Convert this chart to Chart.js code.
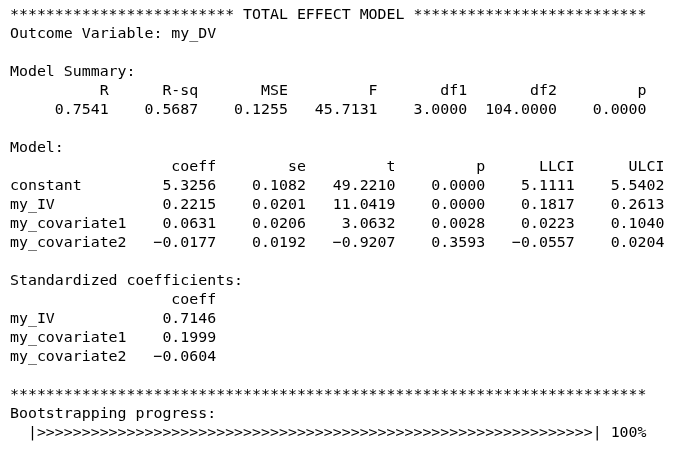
<!DOCTYPE html>
<html><head><meta charset="utf-8">
<script src="https://cdn.jsdelivr.net/npm/chart.js@4/dist/chart.umd.min.js"></script>
<style>html,body{margin:0;background:#fff}#c{display:block}</style>
</head><body>
<div style="width:686px;height:466px"><canvas id="c"></canvas></div>
<script>
const summaryHeads = ["R", "R-sq", "MSE", "F", "df1", "df2", "p"];
const summaryValues = ["0.7541", "0.5687", "0.1255", "45.7131", "3.0000", "104.0000", "0.0000"];
const modelHeads = ["coeff", "se", "t", "p", "LLCI", "ULCI"];
const modelTerms = ["constant", "my_IV", "my_covariate1", "my_covariate2"];
const modelValues = [
  ["5.3256", "0.1082", "49.2210", "0.0000", "5.1111", "5.5402"],
  ["0.2215", "0.0201", "11.0419", "0.0000", "0.1817", "0.2613"],
  ["0.0631", "0.0206", "3.0632", "0.0028", "0.0223", "0.1040"],
  ["-0.0177", "0.0192", "-0.9207", "0.3593", "-0.0557", "0.0204"]
];
const stdTerms = ["my_IV", "my_covariate1", "my_covariate2"];
const stdValues = ["0.7146", "0.1999", "-0.0604"];
const progress = 100;

const fmt = s => s.replace(/^-/, "\u2212");
const row = (first, cells, w) => first + cells.map(c => fmt(c).padStart(w)).join("");

const lines = [
  "*".repeat(25) + " TOTAL EFFECT MODEL " + "*".repeat(26),
  "Outcome Variable: my_DV",
  "",
  "Model Summary:",
  " " + row("", summaryHeads, 10),
  " " + row("", summaryValues, 10),
  "",
  "Model:",
  row(" ".repeat(13), modelHeads, 10),
  ...modelTerms.map((t, i) => row(t.padEnd(13), modelValues[i], 10)),
  "",
  "Standardized coefficients:",
  row(" ".repeat(13), ["coeff"], 10),
  ...stdTerms.map((t, i) => row(t.padEnd(13), [stdValues[i]], 10)),
  "",
  "*".repeat(71),
  "Bootstrapping progress:",
  "  |" + ">".repeat(62) + "| " + progress + "%"
];

const textPlugin = {
  id: "textOutput",
  afterDraw(chart) {
    const ctx = chart.ctx;
    ctx.save();
    ctx.fillStyle = "#000";
    ctx.font = "14.9px 'DejaVu Sans Mono', 'Liberation Mono', monospace";
    ctx.textBaseline = "middle";
    lines.forEach((l, i) => ctx.fillText(l, 10, 15 + 19 * i));
    ctx.restore();
  }
};

new Chart(document.getElementById("c"), {
  type: "bar",
  data: { labels: [], datasets: [] },
  options: {
    responsive: true,
    maintainAspectRatio: false,
    animation: false,
    scales: { x: { display: false }, y: { display: false } },
    plugins: { legend: { display: false }, tooltip: { enabled: false } }
  },
  plugins: [textPlugin]
});
</script>
</body></html>
